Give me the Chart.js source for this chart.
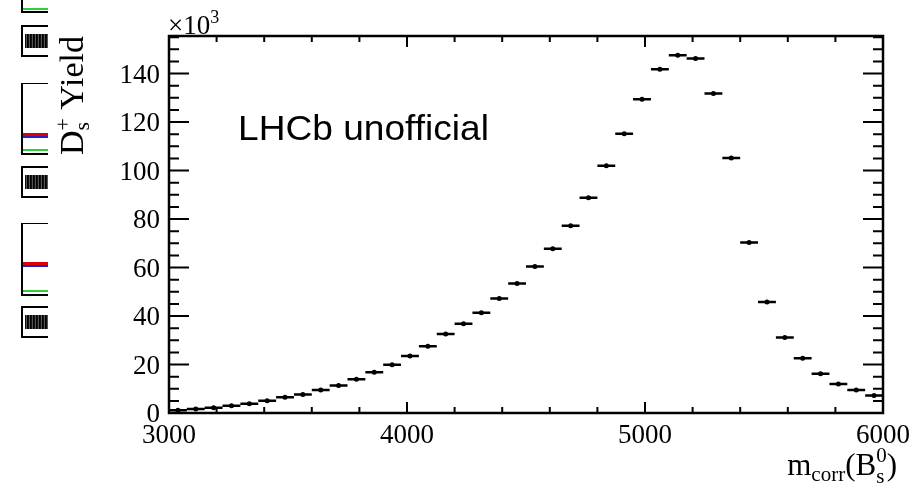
<!DOCTYPE html>
<html>
<head>
<meta charset="utf-8">
<script src="https://cdn.jsdelivr.net/npm/chart.js@4.4.1/dist/chart.umd.min.js"></script>
<style>
  html, body { margin: 0; padding: 0; background: #fff; }
  #wrap { position: relative; width: 914px; height: 488px; overflow: hidden; }
  #wrap canvas { position: absolute; left: 0; top: 0; }
  .frag { position: absolute; left: 21px; width: 27px; border-left: 2px solid #000; border-bottom: 2px solid #000; border-top: 2px solid #000; box-sizing: border-box; }
  .noise { position: absolute; left: 2px; right: 0; top: 25%; height: 50%;
           background: repeating-linear-gradient(90deg, #111 0 1px, #555 1px 2px, #000 2px 3px); }
  .red { position: absolute; left: 0; right: 0; height: 3px; background: #d00; }
  .blue { position: absolute; left: 0; right: 0; height: 2px; background: #22c; }
  .green { position: absolute; left: 0; right: 0; height: 2px; background: #3c3; }
</style>
</head>
<body>
<div id="wrap">
  <!-- pieces of the slide behind the plot -->
  <div class="frag" style="top:-4px;height:17px;border-top:none"><div class="green" style="bottom:1px"></div></div>
  <div class="frag" style="top:25px;height:32px"><div class="noise"></div></div>
  <div class="frag" style="top:83px;height:72px;border-top:1px solid #000"><div class="blue" style="top:52px"></div><div class="red" style="top:49px"></div><div class="green" style="bottom:2px"></div></div>
  <div class="frag" style="top:166px;height:32px"><div class="noise"></div></div>
  <div class="frag" style="top:223px;height:73px;border-top:1px solid #000"><div class="blue" style="top:41px"></div><div class="red" style="top:38px"></div><div class="green" style="bottom:2px"></div></div>
  <div class="frag" style="top:306px;height:32px"><div class="noise"></div></div>
  <canvas id="c" width="914" height="488"></canvas>
</div>
<script>
// bin centres of m_corr(B_s^0), 75 MeV bins
const binCenters = [
  3037.5, 3112.5, 3187.5, 3262.5, 3337.5, 3412.5, 3487.5, 3562.5, 3637.5, 3712.5,
  3787.5, 3862.5, 3937.5, 4012.5, 4087.5, 4162.5, 4237.5, 4312.5, 4387.5, 4462.5,
  4537.5, 4612.5, 4687.5, 4762.5, 4837.5, 4912.5, 4987.5, 5062.5, 5137.5, 5212.5,
  5287.5, 5362.5, 5437.5, 5512.5, 5587.5, 5662.5, 5737.5, 5812.5, 5887.5, 5962.5
];
const binHalfWidth = 37.5;
// D_s+ yield per bin, in units of 10^3
const yields = [
  1.1, 1.65, 2.2, 3.0, 3.85, 5.1, 6.5, 7.6, 9.5, 11.3,
  13.9, 16.8, 19.9, 23.5, 27.5, 32.6, 36.8, 41.4, 47.2, 53.4,
  60.4, 67.7, 77.2, 88.8, 102.0, 115.2, 129.4, 141.8, 147.6, 146.2,
  131.8, 105.2, 70.3, 45.8, 31.1, 22.6, 16.2, 12.0, 9.5, 7.2
];
const xTickLabels = [3000, 4000, 5000, 6000];
const yTickLabels = [0, 20, 40, 60, 80, 100, 120, 140];

const serif = '"Liberation Serif", "Times New Roman", serif';

// draw a list of text runs [text, size, dy] from (x, y), returns width
function runs(ctx, parts, x, y, measureOnly) {
  let cx = x;
  for (const p of parts) {
    if (p.stack) {
      let w = 0;
      for (const s of p.stack) {
        ctx.font = s[1] + 'px ' + serif;
        if (!measureOnly) ctx.fillText(s[0], cx, y + s[2]);
        w = Math.max(w, ctx.measureText(s[0]).width);
      }
      cx += w;
    } else {
      ctx.font = p[1] + 'px ' + serif;
      if (!measureOnly) ctx.fillText(p[0], cx, y + p[2]);
      cx += ctx.measureText(p[0]).width;
    }
  }
  return cx - x;
}

const rootStyle = {
  id: 'rootStyle',
  beforeDatasetsDraw(chart) {
    const { ctx, scales: { x, y } } = chart;
    ctx.save();
    ctx.strokeStyle = '#000';
    ctx.lineWidth = 2.5;
    ctx.beginPath();
    binCenters.forEach((c, i) => {
      const py = y.getPixelForValue(yields[i]);
      ctx.moveTo(x.getPixelForValue(c - binHalfWidth), py);
      ctx.lineTo(x.getPixelForValue(c + binHalfWidth), py);
    });
    ctx.stroke();
    ctx.restore();
  },
  afterDraw(chart) {
    const { ctx, chartArea: a, scales: { x, y } } = chart;
    ctx.save();
    ctx.strokeStyle = '#000';
    ctx.fillStyle = '#000';

    // ticks
    ctx.lineWidth = 2;
    ctx.beginPath();
    for (let v = 0; v <= y.max; v += 5) {
      const py = y.getPixelForValue(v);
      const len = v % 20 === 0 ? 20 : 10;
      ctx.moveTo(a.left, py); ctx.lineTo(a.left + len, py);
      ctx.moveTo(a.right, py); ctx.lineTo(a.right - len, py);
    }
    for (let v = x.min; v <= x.max; v += 200) {
      const px = x.getPixelForValue(v);
      const len = v % 1000 === 0 ? 11 : 6;
      ctx.moveTo(px, a.bottom); ctx.lineTo(px, a.bottom - len);
      ctx.moveTo(px, a.top); ctx.lineTo(px, a.top + len);
    }
    ctx.stroke();

    // frame
    ctx.lineWidth = 2.5;
    ctx.strokeRect(a.left, a.top, a.right - a.left, a.bottom - a.top);

    // tick labels
    ctx.font = '27px ' + serif;
    ctx.textBaseline = 'alphabetic';
    ctx.textAlign = 'right';
    yTickLabels.forEach(v => ctx.fillText(String(v), a.left - 9, y.getPixelForValue(v) + 9));
    ctx.textAlign = 'center';
    xTickLabels.forEach(v => ctx.fillText(String(v), x.getPixelForValue(v), a.bottom + 30));

    ctx.textAlign = 'left';
    runs(ctx, [['\u00d710', 27, 0], ['3', 18, -11]], a.left - 1, a.top - 2);

    // y title, rotated, ending at top of axis
    const yParts = [['D', 34, 0], { stack: [['+', 22, -13], ['s', 22, 6]] }, [' Yield', 34, 0]];
    const yw = runs(ctx, yParts, 0, 0, true);
    ctx.save();
    ctx.translate(83, a.top);
    ctx.rotate(-Math.PI / 2);
    runs(ctx, yParts, -yw, 0);
    ctx.restore();

    // x title, right aligned
    const xParts = [['m', 31, 0], ['corr', 21, 6], ['(B', 31, 0], { stack: [['0', 21, -13], ['s', 21, 8]] }, [')', 31, 0]];
    const xw = runs(ctx, xParts, 0, 0, true);
    runs(ctx, xParts, 897 - xw, 475);

    // label
    ctx.font = '35px "Liberation Sans", Arial, sans-serif';
    ctx.save();
    ctx.translate(238, 140);
    ctx.scale(1.06, 1);
    ctx.fillText('LHCb unofficial', 0, 0);
    ctx.restore();

    ctx.restore();
  }
};

new Chart(document.getElementById('c'), {
  type: 'scatter',
  data: {
    datasets: [{
      data: binCenters.map((c, i) => ({ x: c, y: yields[i] })),
      backgroundColor: '#000',
      borderWidth: 0,
      pointRadius: 2.5,
      pointHoverRadius: 2.5
    }]
  },
  options: {
    responsive: false,
    animation: false,
    layout: { padding: { left: 169, right: 31, top: 36, bottom: 75 } },
    plugins: { legend: { display: false }, tooltip: { enabled: false } },
    scales: {
      x: { type: 'linear', min: 3000, max: 6000, display: false },
      y: { type: 'linear', min: 0, max: 155.5, display: false }
    }
  },
  plugins: [rootStyle]
});
</script>
</body>
</html>
